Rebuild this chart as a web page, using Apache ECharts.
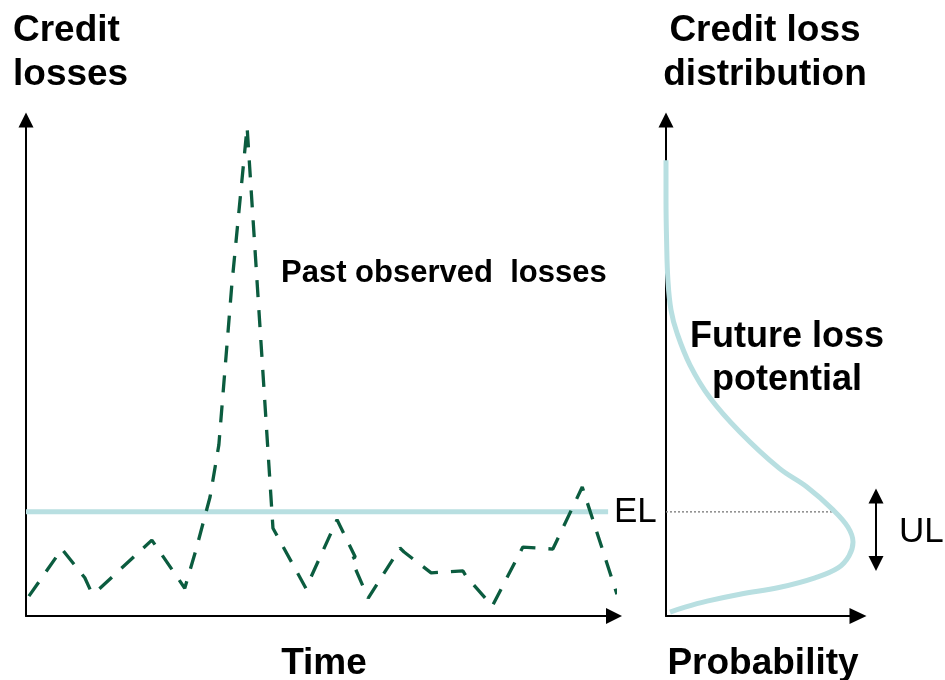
<!DOCTYPE html>
<html><head><meta charset="utf-8">
<script src="https://cdn.jsdelivr.net/npm/echarts@6/dist/echarts.min.js"></script>
<style>html,body{margin:0;padding:0;background:#fff}#c{width:945px;height:680px}</style>
</head><body><div id="c"></div>
<script>
// Left panel: past observed credit losses over time
const timePoints = [0.5, 6.1, 10.0, 11.2, 12.4, 21.4, 27.0, 28.9, 31.3, 32.8, 35.0, 37.6, 42.0, 47.6, 52.9, 56.0, 55.3, 58.2, 63.6, 64.3, 68.9, 74.3, 74.8, 79.3, 84.5, 89.6, 94.6, 100.5];
const pastLosses = [4.0, 13.5, 7.7, 4.6, 5.4, 15.3, 5.6, 13.3, 24.0, 34.5, 66.7, 98.6, 17.7, 5.6, 19.4, 11.9, 11.5, 3.6, 13.7, 12.9, 8.7, 9.1, 8.1, 2.0, 13.9, 13.5, 26.0, 4.4];
const expectedLoss = 21.0;
const elSpan = [0, 99];
// Right panel: credit loss distribution
const distProb = [0, 0, 0.3, 1.0, 2.6, 5.7, 12.5, 22.9, 38.5, 58.9, 73.4, 87.0, 94.8, 97.4, 95.3, 89.6, 77.6, 59.4, 38.5, 21.4, 9.9, 2.1];
const distLoss = [91.9, 83.9, 75.8, 67.7, 61.7, 57.1, 50.6, 44.0, 37.1, 29.8, 26.0, 21.4, 17.9, 14.9, 12.1, 9.7, 7.7, 5.8, 4.4, 3.0, 1.8, 0.8];
const elProbEnd = 87;
// Unexpected loss band marker
const ulRange = [24.2, 10.6];
// Texts
const leftTitle = ['Credit', 'losses'];
const rightTitle = ['Credit loss', 'distribution'];
const leftAxisName = 'Time';
const rightAxisName = 'Probability';
const pastLabel = 'Past observed  losses';
const futureLabel = ['Future loss', 'potential'];
const elLabel = 'EL';
const ulLabel = 'UL';

const FF = '"Liberation Sans", Arial, sans-serif';
const lightBlue = '#b8dfe1';
const darkGreen = '#0b5c3f';

const chart = echarts.init(document.getElementById('c'), null, {renderer: 'canvas'});

function axisCommon(show, size) {
  return {
    show: show,
    axisLine: {show: show, symbol: ['none', 'triangle'], symbolSize: size || [15, 15], lineStyle: {color: '#000', width: 2}},
    axisTick: {show: false}, axisLabel: {show: false}, splitLine: {show: false}
  };
}

function txt(text, x, y, size, bold, align) {
  return {type: 'text', x: x, y: y, silent: true,
    style: {text: text, font: (bold ? 'bold ' : '') + size + 'px ' + FF, fill: '#000', align: align || 'left', verticalAlign: 'middle'}};
}

const option = {
  animation: false,
  backgroundColor: '#fff',
  grid: [
    {left: 26, right: 331, top: 120, bottom: 64},
    {left: 666, right: 87, top: 120, bottom: 64},
    {left: 866, right: 59, top: 120, bottom: 64}
  ],
  xAxis: [
    Object.assign({type: 'value', gridIndex: 0, min: 0, max: 100}, axisCommon(true, [16, 16])),
    Object.assign({type: 'value', gridIndex: 1, min: 0, max: 100}, axisCommon(true, [16, 17])),
    Object.assign({type: 'value', gridIndex: 2, min: 0, max: 2}, axisCommon(false))
  ],
  yAxis: [
    Object.assign({type: 'value', gridIndex: 0, min: 0, max: 100}, axisCommon(true, [15, 15])),
    Object.assign({type: 'value', gridIndex: 1, min: 0, max: 100}, axisCommon(true, [15, 15])),
    Object.assign({type: 'value', gridIndex: 2, min: 0, max: 100}, axisCommon(false))
  ],
  series: [
    {type: 'line', xAxisIndex: 0, yAxisIndex: 0, symbol: 'none', z: 1,
      data: elSpan.map(x => [x, expectedLoss]),
      lineStyle: {color: lightBlue, width: 5}},
    {type: 'line', xAxisIndex: 0, yAxisIndex: 0, symbol: 'none', clip: false, z: 2,
      data: timePoints.map((t, i) => [t, pastLosses[i]]),
      lineStyle: {color: darkGreen, width: 3.3, type: [17, 13]}},
    {type: 'line', xAxisIndex: 1, yAxisIndex: 1, symbol: 'none', z: 1,
      data: [[0, expectedLoss], [elProbEnd, expectedLoss]],
      lineStyle: {color: '#8a8a8a', width: 1.5, type: [2, 2]}},
    {type: 'line', xAxisIndex: 1, yAxisIndex: 1, symbol: 'none', smooth: 0.4, clip: false, z: 2,
      data: distProb.map((p, i) => [p, distLoss[i]]),
      lineStyle: {color: lightBlue, width: 5}},
    {type: 'line', xAxisIndex: 2, yAxisIndex: 2, clip: false, z: 3,
      symbol: 'triangle', symbolSize: [15, 15], showSymbol: true,
      itemStyle: {color: '#000'},
      data: [{value: [1, ulRange[0]], symbolRotate: 0}, {value: [1, ulRange[1]], symbolRotate: 180}],
      lineStyle: {color: '#000', width: 2}}
  ],
  graphic: [
    txt(leftTitle[0], 13, 31, 37, true),
    txt(leftTitle[1], 13, 75, 37, true),
    txt(rightTitle[0], 765, 31, 37, true, 'center'),
    txt(rightTitle[1], 765, 75, 37, true, 'center'),
    txt(leftAxisName, 324, 664, 37, true, 'center'),
    txt(rightAxisName, 763, 664, 37, true, 'center'),
    txt(pastLabel, 281, 273, 31, true),
    txt(futureLabel[0], 787, 337, 36, true, 'center'),
    txt(futureLabel[1], 787, 380, 36, true, 'center'),
    txt(elLabel, 614, 512, 35, false),
    txt(ulLabel, 899, 532, 35, false)
  ]
};
chart.setOption(option);
</script>
</body></html>
